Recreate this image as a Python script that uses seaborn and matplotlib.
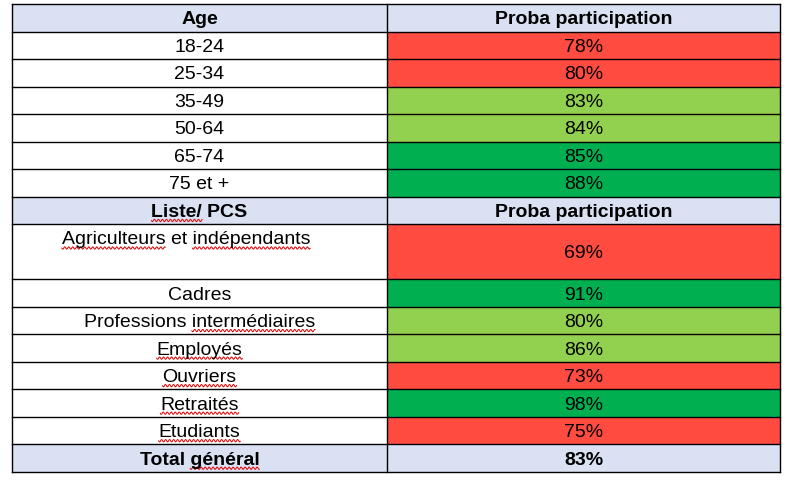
import numpy as np
import matplotlib
matplotlib.use("Agg")
import matplotlib.pyplot as plt
from matplotlib.colors import ListedColormap
import seaborn as sns

sns.set_style("white")
plt.rcParams["font.family"] = ["Liberation Sans", "DejaVu Sans"]
plt.rcParams["text.color"] = "black"

# data
age_groups = ["18-24", "25-34", "35-49", "50-64", "65-74", "75 et +"]
age_proba = [78, 80, 83, 84, 85, 88]
age_level = ["low", "low", "mid", "mid", "high", "high"]

pcs_groups = ["Agriculteurs et indépendants", "Cadres", "Professions intermédiaires",
              "Employés", "Ouvriers", "Retraités", "Etudiants"]
pcs_proba = [69, 91, 80, 86, 73, 98, 75]
pcs_level = ["low", "high", "mid", "mid", "low", "high", "low"]

total_label = "Total général"
total_proba = 83

col_header = "Proba participation"
spell_words = ["Liste/", "Agriculteurs", "indépendants", "intermédiaires", "Employés",
               "Ouvriers", "Retraités", "Etudiants", "général"]

colors = ["#ffffff", "#d9e1f2", "#ff4b40", "#92d050", "#00b050"]
level_code = {"low": 2, "mid": 3, "high": 4}

# rows: label, value text, left code, right code, height units, bold
rows = [("Age", col_header, 1, 1, 1, True)]
for g, p, lv in zip(age_groups, age_proba, age_level):
    rows.append((g, f"{p}%", 0, level_code[lv], 1, False))
rows.append(("Liste/ PCS", col_header, 1, 1, 1, True))
for g, p, lv in zip(pcs_groups, pcs_proba, pcs_level):
    rows.append((g, f"{p}%", 0, level_code[lv], 2 if g.startswith("Agri") else 1, False))
rows.append((total_label, f"{total_proba}%", 1, 1, 1, True))

left_codes = np.array([[r[2]] for r in rows for _ in range(r[4])])
right_codes = np.array([[r[3]] for r in rows for _ in range(r[4])])
n_units = len(left_codes)

W, H = 799, 482
x0, xm, x1 = 12, 387, 780
y0, y1 = 4, 472
unit = (y1 - y0) / n_units

fig = plt.figure(figsize=(W / 100, H / 100), dpi=100)
cmap = ListedColormap(colors)
axl = fig.add_axes([x0 / W, 1 - y1 / H, (xm - x0) / W, (y1 - y0) / H])
axr = fig.add_axes([xm / W, 1 - y1 / H, (x1 - xm) / W, (y1 - y0) / H])
for a, codes in ((axl, left_codes), (axr, right_codes)):
    sns.heatmap(codes, ax=a, cmap=cmap, vmin=-0.5, vmax=4.5, cbar=False,
                xticklabels=False, yticklabels=False)
    a.axis("off")

ax = fig.add_axes([0, 0, 1, 1])
ax.set_xlim(0, W)
ax.set_ylim(H, 0)
ax.patch.set_alpha(0)
ax.axis("off")

fs = 14
lx, rx = (x0 + xm) / 2, (x1 + xm) / 2
texts = []
y = y0
bounds = [y0]
for label, val, lc, rc, hu, bold in rows:
    top = y
    y = y + hu * unit
    bounds.append(y)
    w = "bold" if bold else "normal"
    if hu == 2:
        base_l = top + unit / 2 + 6.5
        t = ax.text(186, base_l, label, ha="center", va="baseline", fontsize=fs, fontweight=w)
        ax.text(rx, (top + y) / 2 + 6.5, val, ha="center", va="baseline", fontsize=fs, fontweight=w)
    else:
        base = (top + y) / 2 + 6.5
        t = ax.text(lx, base, label, ha="center", va="baseline", fontsize=fs, fontweight=w)
        ax.text(rx, base, val, ha="center", va="baseline", fontsize=fs, fontweight=w)
    texts.append(t)

# grid lines
for b in bounds:
    ax.plot([x0, x1], [b, b], color="black", lw=1.0, solid_capstyle="projecting")
for xv in (x0, xm, x1):
    ax.plot([xv, xv], [y0, y1], color="black", lw=1.0, solid_capstyle="projecting")

# red spell-check squiggles under some words
fig.canvas.draw()
rend = fig.canvas.get_renderer()


def text_width(s, t):
    tmp = ax.text(0, 0, s, fontsize=t.get_fontsize(), fontweight=t.get_fontweight())
    bb = tmp.get_window_extent(rend)
    tmp.remove()
    return bb.width


for t in texts:
    s = t.get_text()
    full = text_width(s, t)
    xc, yb = t.get_position()
    left = xc - full / 2
    pos = 0
    for word in s.split(" "):
        i = s.index(word, pos)
        pos = i + len(word)
        if word in spell_words:
            a = left + (text_width(s[:i], t) if i else 0)
            b = left + text_width(s[:pos], t)
            xs = np.linspace(a, b, int((b - a) * 2))
            ys = yb + 3.5 + 1.2 * np.sin(2 * np.pi * (xs - a) / 4)
            ax.plot(xs, ys, color="#e00000", lw=0.7)

fig.savefig("out.png", dpi=100)
